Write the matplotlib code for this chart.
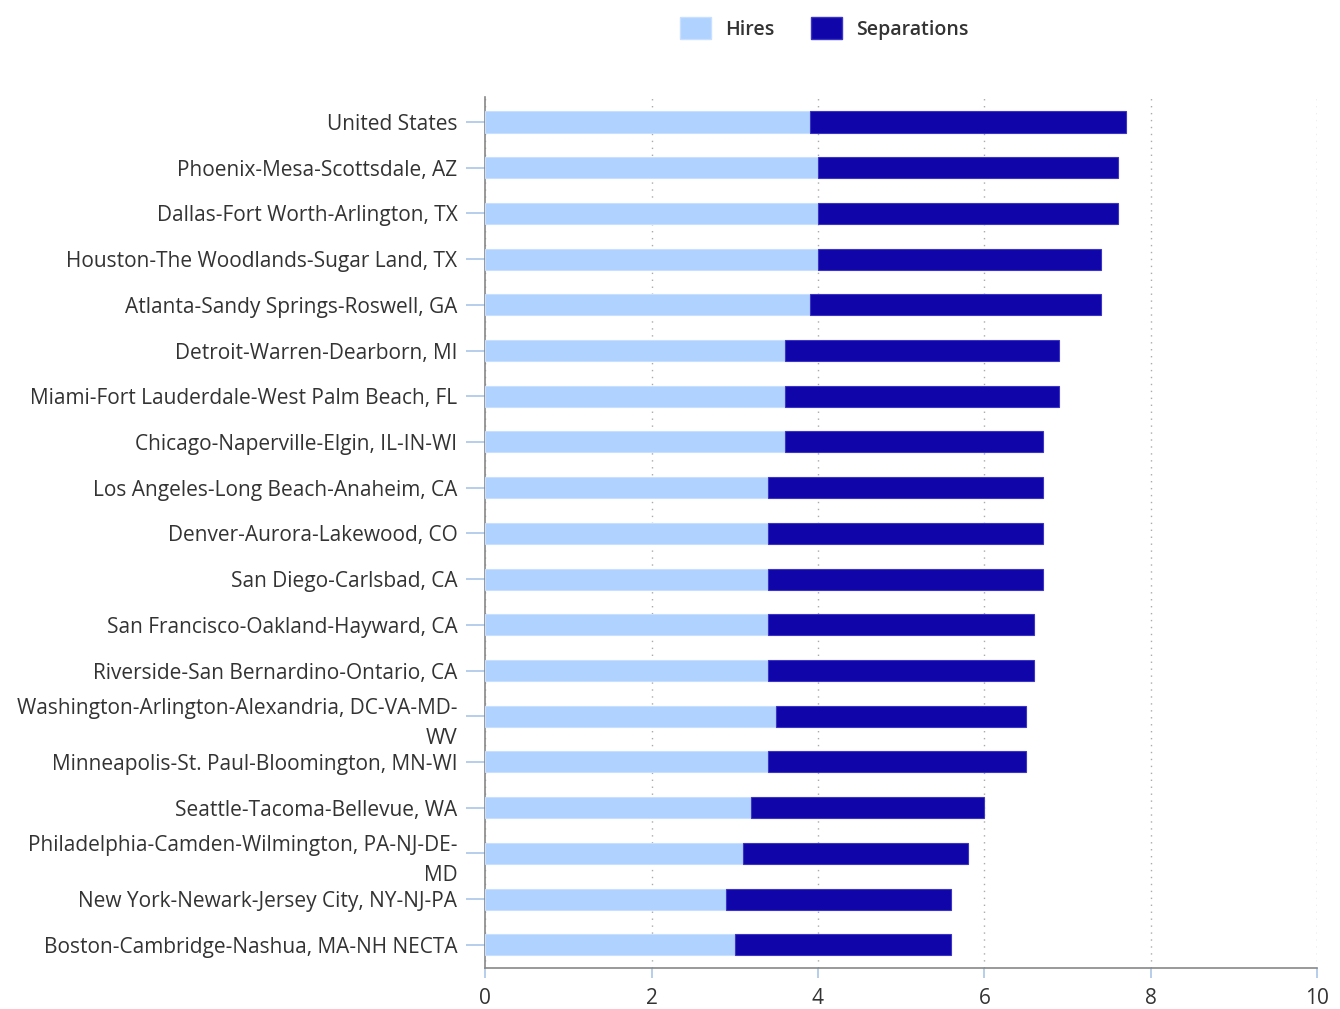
import numpy as np
import matplotlib
matplotlib.use("Agg")
from matplotlib import pyplot as plt
from matplotlib.patches import Patch

plt.rcParams['font.family'] = ['Open Sans', 'DejaVu Sans']

# metro areas, top to bottom
areas = [
    "United States",
    "Phoenix-Mesa-Scottsdale, AZ",
    "Dallas-Fort Worth-Arlington, TX",
    "Houston-The Woodlands-Sugar Land, TX",
    "Atlanta-Sandy Springs-Roswell, GA",
    "Detroit-Warren-Dearborn, MI",
    "Miami-Fort Lauderdale-West Palm Beach, FL",
    "Chicago-Naperville-Elgin, IL-IN-WI",
    "Los Angeles-Long Beach-Anaheim, CA",
    "Denver-Aurora-Lakewood, CO",
    "San Diego-Carlsbad, CA",
    "San Francisco-Oakland-Hayward, CA",
    "Riverside-San Bernardino-Ontario, CA",
    "Washington-Arlington-Alexandria, DC-VA-MD-\nWV",
    "Minneapolis-St. Paul-Bloomington, MN-WI",
    "Seattle-Tacoma-Bellevue, WA",
    "Philadelphia-Camden-Wilmington, PA-NJ-DE-\nMD",
    "New York-Newark-Jersey City, NY-NJ-PA",
    "Boston-Cambridge-Nashua, MA-NH NECTA",
]
hires = [3.9, 4.0, 4.0, 4.0, 3.9, 3.6, 3.6, 3.6, 3.4, 3.4, 3.4, 3.4, 3.4, 3.5, 3.4, 3.2, 3.1, 2.9, 3.0]
separations = [3.8, 3.6, 3.6, 3.4, 3.5, 3.3, 3.3, 3.1, 3.3, 3.3, 3.3, 3.2, 3.2, 3.0, 3.1, 2.8, 2.7, 2.7, 2.6]

hire_col = '#afd2ff'
sep_col = '#1005a8'

fig = plt.figure(figsize=(13.4, 10.09), dpi=100)
ax = fig.add_axes([0.362, 0.041, 0.621, 0.863])

y = np.arange(len(areas))
ax.barh(y, hires, height=0.46, color=hire_col, edgecolor='#c8dfff', linewidth=0.8, zorder=3)
ax.barh(y, separations, left=hires, height=0.46, color=sep_col, edgecolor='#3a35c8', linewidth=0.8, zorder=3)

ax.set_xlim(0, 10)
ax.set_ylim(len(areas) - 0.5, -0.55)
ax.set_xticks([0, 2, 4, 6, 8, 10])
ax.set_yticks(y)
ax.set_yticklabels(areas, fontsize=15, color='#333333', linespacing=1.55)
ax.tick_params(axis='x', labelsize=15, labelcolor='#333333', color='#a9c6e8', length=7, width=1.2, pad=8)
ax.tick_params(axis='y', color='#a9c6e8', length=14, width=1.2, pad=6)

ax.grid(axis='x', linestyle=(0, (1, 4)), color='#aaaaaa', linewidth=1, zorder=0)
for s in ['top', 'right']:
    ax.spines[s].set_visible(False)
ax.spines['left'].set_color('#888888')
ax.spines['bottom'].set_color('#888888')
ax.spines['left'].set_linewidth(1.2)
ax.spines['bottom'].set_linewidth(1.2)

handles = [Patch(facecolor=hire_col, edgecolor='#c8dfff', label='Hires'),
           Patch(facecolor=sep_col, edgecolor='#3a35c8', label='Separations')]
fig.legend(handles=handles, loc='upper center', bbox_to_anchor=(0.615, 1.0), ncol=2, frameon=False,
           prop={'size': 14, 'weight': 'semibold'}, handlelength=1.6, handleheight=1.3,
           columnspacing=1.9, handletextpad=0.7, labelcolor='#333333')

fig.savefig('out.png', dpi=100)
